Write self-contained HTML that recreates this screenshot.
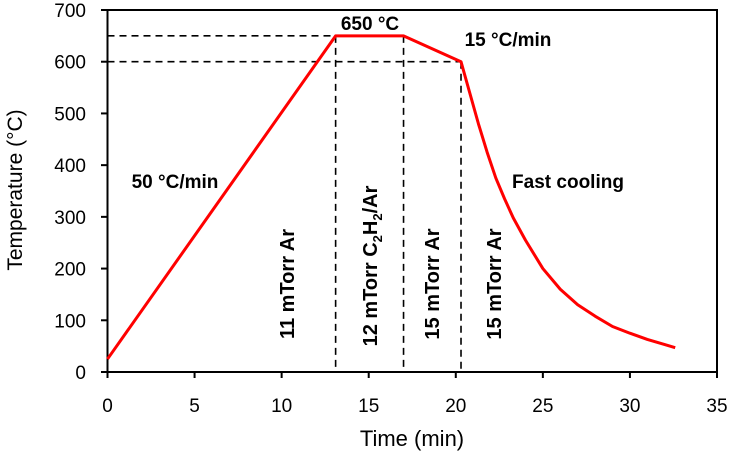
<!DOCTYPE html>
<html><head><meta charset="utf-8"><style>
body{margin:0;background:#fff}
svg text{font-family:"Liberation Sans",sans-serif;fill:#000}
.b{font-weight:bold;font-size:19px}
</style></head><body>
<svg id="c" width="730" height="457"></svg>
<script>
const xTicks=[0,5,10,15,20,25,30,35];
const yTicks=[0,100,200,300,400,500,600,700];
const times=[0,13.1,17,20.3,20.8,21.3,21.8,22.3,22.8,23.3,24,25,26,27,28,29,30,31,32,32.6];
const temps=[25,650,650,600,540,480,425,375,335,298,255,200,160,130,108,88,75,63,53,47];
const hLines=[650,600];
const hEnds=[13.1,20.3];
const vLines=[13.1,17,20.3];
const vTops=[650,650,600];
const X=t=>107.5+t*(717-107.5)/35;
const Y=v=>372-v*(372-10)/700;
const s=document.getElementById('c');const NS='http://www.w3.org/2000/svg';
function el(tag,a,txt){const e=document.createElementNS(NS,tag);for(const k in a)e.setAttribute(k,a[k]);if(txt!==undefined)e.textContent=txt;s.appendChild(e);return e;}
let e;
e=el('rect',{x:X(0),y:Y(700),width:X(35)-X(0),height:Y(0)-Y(700),fill:'none',stroke:'#000','stroke-width':2});


xTicks.forEach(t=>{
 e=el('line',{x1:X(t),x2:X(t),y1:372,y2:378,stroke:'#000','stroke-width':2});
 
 
 e=el('text',{x:X(t),y:412,'text-anchor':'middle','font-size':19},t);
 
 
});
yTicks.forEach(v=>{
 e=el('line',{x1:101,x2:107.5,y1:Y(v),y2:Y(v),stroke:'#000','stroke-width':2});
 
 
 e=el('text',{x:86,y:Y(v)+7,'text-anchor':'end','font-size':19},v);
 
 
});
hLines.forEach((v,i)=>{
 e=el('line',{x1:X(0),x2:X(hEnds[i]),y1:Y(v),y2:Y(v),stroke:'#000','stroke-width':1.6,'stroke-dasharray':'7,5'});
 
 
});
vLines.forEach((t,i)=>{
 e=el('line',{x1:X(t),x2:X(t),y1:Y(vTops[i]),y2:Y(0),stroke:'#000','stroke-width':1.6,'stroke-dasharray':'7,5'});
 
 
});
e=el('polyline',{points:times.map((t,i)=>X(t)+','+Y(temps[i])).join(' '),fill:'none',stroke:'#f00','stroke-width':3,'stroke-linejoin':'round'});


e=el('text',{x:412,y:446,'text-anchor':'middle','font-size':22},'Time (min)');


e=el('text',{x:0,y:0,'text-anchor':'middle','font-size':21,transform:'translate(22,190) rotate(-90)'},'Temperature (°C)');


const labels=[['650 °C',370,30,'label-650c'],['15 °C/min',508,46,'label-cooling-rate'],['50 °C/min',175,188,'label-heating-rate'],['Fast cooling',568,188,'label-fast-cooling']];
labels.forEach(l=>{e=el('text',{x:l[1],y:l[2],'text-anchor':'middle',class:'b'},l[0]);
 
 });
const rot=[['11 mTorr Ar',294,284],['15 mTorr Ar',439,284],['15 mTorr Ar',501,284]];
rot.forEach(r=>{e=el('text',{x:0,y:0,'text-anchor':'middle',class:'b','font-size':20,style:'font-size:20px',transform:`translate(${r[1]},${r[2]}) rotate(-90)`},r[0]);
 
 });
e=el('text',{x:0,y:0,'text-anchor':'middle',class:'b',style:'font-size:20px',transform:'translate(377,266) rotate(-90)'});


e.innerHTML='12 mTorr C<tspan font-size="13" dy="5">2</tspan><tspan dy="-5">H</tspan><tspan font-size="13" dy="5">2</tspan><tspan dy="-5">/Ar</tspan>';
</script>
</body></html>
